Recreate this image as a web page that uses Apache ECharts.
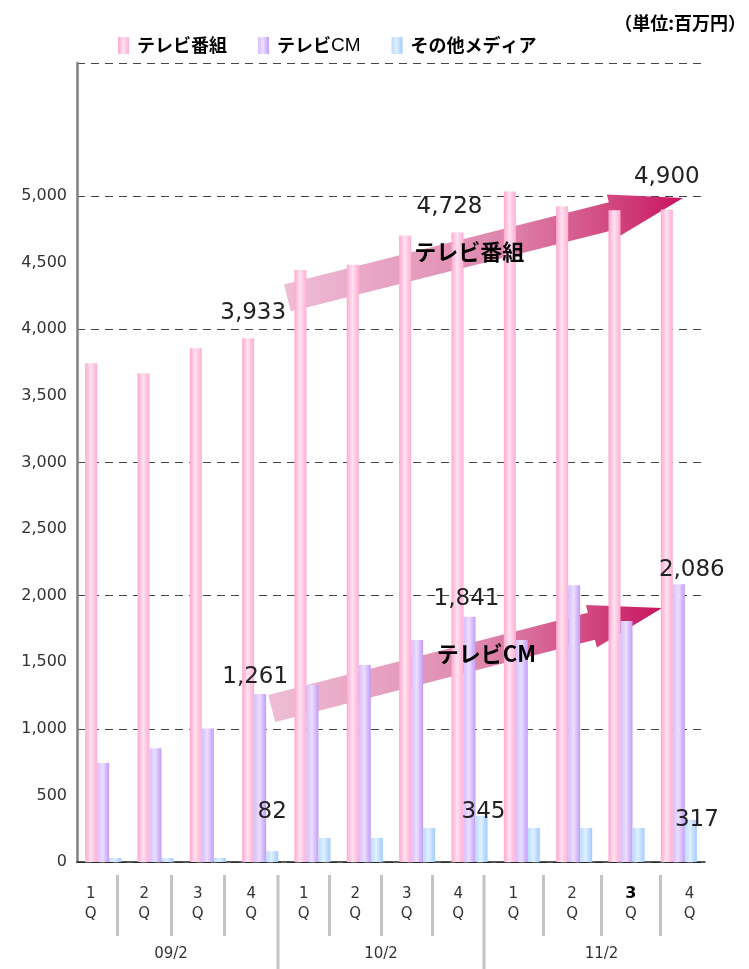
<!DOCTYPE html>
<html><head><meta charset="utf-8">
<script src="https://cdn.jsdelivr.net/npm/echarts@6/dist/echarts.min.js"></script>
<style>html,body{margin:0;padding:0;background:#fff}#c{width:749px;height:969px}</style>
</head><body><div id="c"></div>
<script>
// ---- data ----
const seriesNames = ['テレビ番組', 'テレビCM', 'その他メディア'];
const years = ['09/2', '10/2', '11/2'];
const quarters = ['1', '2', '3', '4'];
const categories = ['09/2-1Q','09/2-2Q','09/2-3Q','09/2-4Q','10/2-1Q','10/2-2Q','10/2-3Q','10/2-4Q','11/2-1Q','11/2-2Q','11/2-3Q','11/2-4Q'];
const tvProgram = [3745, 3670, 3858, 3933, 4445, 4485, 4705, 4728, 5035, 4925, 4895, 4900];
const tvCM = [743, 855, 1003, 1261, 1330, 1480, 1668, 1841, 1667, 2078, 1810, 2086];
const otherMedia = [30, 30, 30, 82, 180, 180, 255, 345, 255, 255, 255, 317];
const yTickValues = [0, 500, 1000, 1500, 2000, 2500, 3000, 3500, 4000, 4500, 5000];
const labeledIndex = [3, 7, 11];
const unitText = '（単位:百万円）';
const highlightYear = 2, highlightQuarter = 2;
const arrowTexts = ['テレビ番組', 'テレビCM'];

// ---- layout / style ----
const NUM_FONT = 'DejaVu Sans';
const JP_FONT = 'Noto Sans CJK JP';
const TABLE_X = [64, 278, 484, 719];
const TABLE_TOP = 875, TABLE_QB = 936, TABLE_BOTTOM = 969;
const G = echarts.graphic.LinearGradient;
const colors = [
  new G(0,0,1,0,[{offset:0,color:'#ffa6cf'},{offset:0.45,color:'#ffe3f0'},{offset:1,color:'#ffaed4'}]),
  new G(0,0,1,0,[{offset:0,color:'#d6bdff'},{offset:0.45,color:'#ecdfff'},{offset:1,color:'#c29cf7'}]),
  new G(0,0,1,0,[{offset:0,color:'#b9dcff'},{offset:0.45,color:'#e0f0ff'},{offset:1,color:'#9fcbff'}])
];
// label placement tweaks per series for the labelled points
const labelTweaks = [
  [{d:14,o:[5,0]},{d:14,o:[-8,0]},{d:21,o:[0,0]}],
  [{d:6,o:[-5,0]},{d:6,o:[-3,0]},{d:3,o:[13,0]}],
  [{d:28,o:[0,0]},{d:0,o:[2,7]},{d:0,o:[6,12]}]
];
function buildData(values, s) {
  return values.map((v, i) => {
    const k = labeledIndex.indexOf(i);
    if (k < 0) return v;
    const t = labelTweaks[s][k];
    return {value: v, label: {show: true, position: 'top', distance: t.d, offset: t.o,
      formatter: p => p.value.toLocaleString('en-US'),
      fontFamily: NUM_FONT, fontSize: 23, color: '#222'}};
  });
}
const allValues = [tvProgram, tvCM, otherMedia];

const chart = echarts.init(document.getElementById('c'), null, {renderer: 'canvas'});

const grids = [{left: 77, right: 44, top: 63, bottom: 107}];
const xAxes = [{
  type: 'category', data: categories, gridIndex: 0,
  axisLine: {lineStyle: {color: '#222', width: 1.5}},
  axisTick: {inside: true, length: 9, lineStyle: {color: '#333', width: 1.5}},
  axisLabel: {show: false}, splitLine: {show: false}
}];
const yAxes = [
  {type: 'value', gridIndex: 0, min: 0, max: 6000, interval: 1000, position: 'left',
   axisLine: {show: false}, axisTick: {show: false}, axisLabel: {show: false},
   splitLine: {show: true, lineStyle: {color: '#444', type: [8, 6], width: 1}}},
  {type: 'value', gridIndex: 0, min: 0, max: 6000, interval: 500, position: 'left',
   axisLine: {show: true, lineStyle: {color: '#808080', width: 2.5}},
   axisTick: {show: false}, splitLine: {show: false},
   axisLabel: {margin: 10, fontFamily: NUM_FONT, fontSize: 16, color: '#333',
     formatter: v => yTickValues.indexOf(v) >= 0 ? v.toLocaleString('en-US') : ''}}
];
years.forEach((yr, yi) => {
  grids.push({left: TABLE_X[yi], width: TABLE_X[yi + 1] - TABLE_X[yi], top: TABLE_TOP, height: TABLE_QB - TABLE_TOP});
  xAxes.push({
    type: 'category', gridIndex: yi + 1, data: quarters, position: 'bottom',
    axisLine: {show: false}, axisTick: {show: false},
    axisLabel: {inside: true, margin: 12, fontFamily: NUM_FONT, fontSize: 15, lineHeight: 20, color: '#333',
      formatter: (q, qi) => (yi === highlightYear && qi === highlightQuarter) ? '{b|' + q + '}\nQ' : q + '\nQ',
      rich: {b: {fontWeight: 'bold', fontSize: 16, color: '#000', fontFamily: NUM_FONT, lineHeight: 20}}},
    splitLine: {show: true, showMinLine: false, showMaxLine: false, lineStyle: {color: '#c4c4c4', width: 3}},
    name: yr, nameLocation: 'middle', nameGap: 11,
    nameTextStyle: {fontFamily: NUM_FONT, fontSize: 15, color: '#333'}
  });
  yAxes.push({type: 'value', gridIndex: yi + 1, show: false});
});

chart.setOption({
  animation: false,
  backgroundColor: '#fff',
  grid: grids, xAxis: xAxes, yAxis: yAxes,
  legend: {
    data: seriesNames, left: 113, top: 31, itemWidth: 11, itemHeight: 17, itemGap: 31,
    icon: 'rect', selectedMode: false,
    textStyle: {fontFamily: JP_FONT, fontSize: 18, fontWeight: 'bold', color: '#000', padding: [0, 0, 0, 3],
      rich: {b: {fontFamily: JP_FONT, fontSize: 18, fontWeight: 'bold', color: '#000'},
             n: {fontFamily: 'Liberation Sans', fontSize: 19, fontWeight: 'normal', color: '#000'}}},
    formatter: n => n === 'テレビCM' ? '{b|テレビ}{n|CM}' : n
  },
  series: seriesNames.map((n, s) => ({
    name: n, type: 'bar', xAxisIndex: 0, yAxisIndex: 0, z: 5,
    barWidth: 12, barGap: '0%',
    itemStyle: {color: colors[s]},
    data: buildData(allValues[s], s)
  }))
});

// ---- annotation arrows (anchored in data coordinates) ----
const xOf = i => {
  const a = chart.convertToPixel({xAxisIndex: 0}, 0), b = chart.convertToPixel({xAxisIndex: 0}, 11);
  return a + (b - a) * i / 11;
};
const yOf = v => chart.convertToPixel({yAxisIndex: 0}, v);
const arrowAnchors = [
  {tail: [3.52, 4235], tip: [11.08, 4986], textAt: 0.46},
  {tail: [3.22, 1153], tip: [10.68, 1907], textAt: 0.55}
];
function arrowShape(p0, p1, sh, hh, hl) {
  const dx = p1[0] - p0[0], dy = p1[1] - p0[1], L = Math.hypot(dx, dy);
  const ux = dx / L, uy = dy / L, nx = -uy, ny = ux;
  const pt = (u, v) => [p0[0] + ux * u + nx * v, p0[1] + uy * u + ny * v];
  const b = L - hl;
  return {pts: [pt(0, -sh), pt(b, -sh), pt(b, -hh), pt(L, 0), pt(b, hh), pt(b, sh), pt(0, sh)], pt, L};
}
const graphics = [];
arrowAnchors.forEach((a, k) => {
  const p0 = [xOf(a.tail[0]), yOf(a.tail[1])], p1 = [xOf(a.tip[0]), yOf(a.tip[1])];
  const s = arrowShape(p0, p1, 14, 22, 73);
  graphics.push({
    type: 'polygon', z: 1, shape: {points: s.pts},
    style: {fill: new G(0, 0, 1, 0, [{offset: 0, color: '#efbdd6'}, {offset: 0.55, color: '#de86ad'},
      {offset: 0.82, color: '#d2477f'}, {offset: 1, color: '#c8135e'}])}
  });
  const c = s.pt(s.L * a.textAt, 0);
  graphics.push({
    type: 'text', z: 100, x: c[0], y: c[1],
    style: {text: arrowTexts[k], fontFamily: JP_FONT, fontSize: 22, fontWeight: 'bold', fill: '#000',
      align: 'center', verticalAlign: 'middle'}
  });
});
// long separators between years
[1, 2].forEach(i => graphics.push({
  type: 'line', z: 50, shape: {x1: TABLE_X[i], y1: TABLE_TOP, x2: TABLE_X[i], y2: TABLE_BOTTOM},
  style: {stroke: '#c4c4c4', lineWidth: 3}
}));
graphics.push({
  type: 'text', right: 3, top: 14, z: 100,
  style: {text: unitText, fontFamily: JP_FONT, fontSize: 18, fontWeight: 'bold', fill: '#000'}
});
chart.setOption({graphic: graphics});
</script>
</body></html>
